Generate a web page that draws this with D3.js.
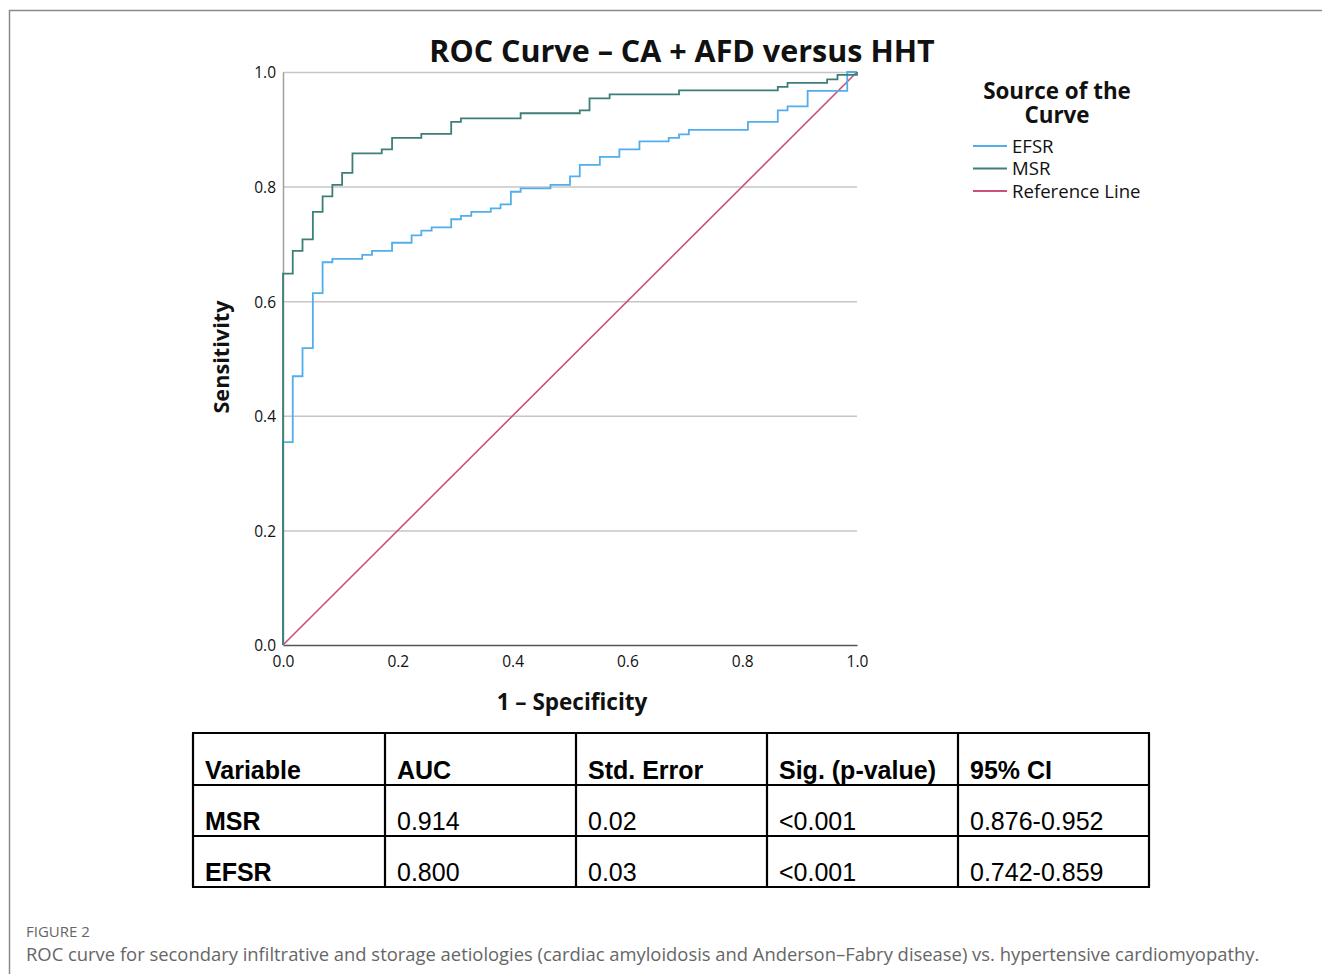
<!DOCTYPE html>
<html><head><meta charset="utf-8">
<script src="https://cdn.jsdelivr.net/npm/d3@7"></script>
<style>
html,body{margin:0;padding:0;background:#fff;}
svg{display:block;}
</style>
</head><body>
<svg id="chart" width="1322" height="974"></svg>
<script>
// ---- Data ----
const msrFpr = [0, 0, 0.017, 0.034, 0.052, 0.069, 0.086, 0.103, 0.121, 0.172, 0.190, 0.241, 0.293, 0.310, 0.414, 0.517, 0.534, 0.569, 0.690, 0.862, 0.879, 0.948, 0.966, 1.0];
const msrTpr = [0, 0.648, 0.688, 0.708, 0.756, 0.783, 0.803, 0.824, 0.858, 0.865, 0.885, 0.892, 0.913, 0.919, 0.928, 0.933, 0.954, 0.961, 0.968, 0.974, 0.981, 0.987, 0.995, 1.0];
const efsrFpr = [0, 0, 0.017, 0.034, 0.052, 0.069, 0.086, 0.138, 0.155, 0.190, 0.224, 0.241, 0.259, 0.293, 0.310, 0.328, 0.362, 0.379, 0.397, 0.414, 0.466, 0.500, 0.517, 0.552, 0.586, 0.621, 0.672, 0.690, 0.707, 0.810, 0.862, 0.879, 0.914, 0.983, 1.0];
const efsrTpr = [0, 0.354, 0.469, 0.518, 0.614, 0.668, 0.674, 0.681, 0.688, 0.702, 0.715, 0.723, 0.729, 0.743, 0.749, 0.756, 0.762, 0.769, 0.791, 0.797, 0.803, 0.818, 0.838, 0.852, 0.865, 0.879, 0.885, 0.891, 0.899, 0.913, 0.933, 0.940, 0.967, 1.0, 1.0];
const refFpr = [0, 1];
const refTpr = [0, 1];
const xTicks = [0, 0.2, 0.4, 0.6, 0.8, 1.0];
const yTicks = [0, 0.2, 0.4, 0.6, 0.8, 1.0];
const seriesNames = ["EFSR", "MSR", "Reference Line"];
const seriesColors = ["#52aeea", "#3d7f78", "#c8507e"];
const tableHeaders = ["Variable", "AUC", "Std. Error", "Sig. (p-value)", "95% CI"];
const tableRow1 = ["MSR", "0.914", "0.02", "<0.001", "0.876-0.952"];
const tableRow2 = ["EFSR", "0.800", "0.03", "<0.001", "0.742-0.859"];
const titleText = "ROC Curve \u2013 CA + AFD versus HHT";
const xLabel = "1 \u2013 Specificity";
const yLabel = "Sensitivity";
const legendTitle = ["Source of the", "Curve"];
const figLabel = "FIGURE 2";
const captionText = "ROC curve for secondary infiltrative and storage aetiologies (cardiac amyloidosis and Anderson\u2013Fabry disease) vs. hypertensive cardiomyopathy.";

// ---- Drawing ----
const svg = d3.select("#chart");
const font = "'Open Sans', 'Noto Sans', sans-serif";

// outer frame
svg.append("path").attr("d", "M9.5,974 L9.5,10.5 L1322,10.5")
  .attr("fill", "none").attr("stroke", "#8a8a8a").attr("stroke-width", 1.5);

const x = d3.scaleLinear().domain([0, 1]).range([283, 857]);
const y = d3.scaleLinear().domain([0, 1]).range([645, 72]);

// gridlines
svg.append("g").selectAll("line").data(yTicks.filter(d => d > 0)).join("line")
  .attr("x1", x(0)).attr("x2", x(1))
  .attr("y1", d => y(d) + 0.5).attr("y2", d => y(d) + 0.5)
  .attr("stroke", "#c6c6c6").attr("stroke-width", 1.5);

// axes
const xAxis = svg.append("g").attr("transform", `translate(0,${y(0)})`)
  .call(d3.axisBottom(x).tickValues(xTicks).tickFormat(d3.format(".1f")).tickSize(0).tickPadding(11));
const yAxis = svg.append("g").attr("transform", `translate(${x(0)},0)`)
  .call(d3.axisLeft(y).tickValues(yTicks).tickFormat(d3.format(".1f")).tickSize(0).tickPadding(7));
[xAxis, yAxis].forEach(a => {
  a.selectAll("text").attr("font-family", font).attr("font-size", 15.5).attr("fill", "#111");
});
xAxis.select(".domain").attr("stroke", "#555").attr("stroke-width", 1.5);
yAxis.select(".domain").attr("stroke", "#a0a0a0").attr("stroke-width", 1.5);
yAxis.selectAll("text").attr("dy", "0.38em");

// lines
const line = d3.line().x(d => x(d[0])).y(d => y(d[1]));
const stepLine = d3.line().x(d => x(d[0])).y(d => y(d[1])).curve(d3.curveStepAfter);
svg.append("path").datum(refFpr.map((v, i) => [v, refTpr[i]]))
  .attr("d", line).attr("fill", "none").attr("stroke", seriesColors[2]).attr("stroke-width", 1.6);
svg.append("path").datum(efsrFpr.map((v, i) => [v, efsrTpr[i]]))
  .attr("d", stepLine).attr("fill", "none").attr("stroke", seriesColors[0]).attr("stroke-width", 1.8);
svg.append("path").datum(msrFpr.map((v, i) => [v, msrTpr[i]]))
  .attr("d", stepLine).attr("fill", "none").attr("stroke", seriesColors[1]).attr("stroke-width", 1.8);

// title & axis labels
svg.append("text").attr("x", 682).attr("y", 62).attr("text-anchor", "middle")
  .attr("font-family", font).attr("font-weight", "bold").attr("font-size", 30.5).attr("fill", "#111").text(titleText);
svg.append("text").attr("x", 572).attr("y", 710).attr("text-anchor", "middle")
  .attr("font-family", font).attr("font-weight", "bold").attr("font-size", 22.5).attr("fill", "#111").text(xLabel);
svg.append("text").attr("transform", "translate(229,357) rotate(-90)").attr("text-anchor", "middle")
  .attr("font-family", font).attr("font-weight", "bold").attr("font-size", 21.7).attr("fill", "#111").text(yLabel);

// legend
const lg = svg.append("g");
const lt = lg.append("text").attr("x", 1057).attr("y", 99).attr("text-anchor", "middle")
  .attr("font-family", font).attr("font-weight", "bold").attr("font-size", 22.4).attr("fill", "#111");
lt.selectAll("tspan").data(legendTitle).join("tspan")
  .attr("x", 1057).attr("dy", (d, i) => i === 0 ? 0 : 24).text(d => d);
const li = lg.selectAll("g.item").data(seriesNames).join("g").attr("class", "item")
  .attr("transform", (d, i) => `translate(0,${146 + i * 22.5})`);
li.append("line").attr("x1", 973).attr("x2", 1007).attr("y1", 0).attr("y2", 0)
  .attr("stroke", (d, i) => seriesColors[i]).attr("stroke-width", 1.8);
li.append("text").attr("x", 1012).attr("y", 6.5).attr("font-family", font).attr("font-size", 18.6)
  .attr("fill", "#111").text(d => d);

// table
const colX = [193, 385, 576, 767, 958, 1149];
const rowY = [733, 785, 836, 887];
const tg = svg.append("g");
const rows = [tableHeaders, tableRow1, tableRow2];
rows.forEach((r, ri) => {
  tg.selectAll(null).data(r).join("text")
    .attr("x", (d, ci) => colX[ci] + 12).attr("y", rowY[ri + 1] - 6)
    .attr("font-family", "'Liberation Sans', Arial, sans-serif")
    .attr("font-size", 25)
    .attr("font-weight", (d, ci) => (ri === 0 || ci === 0) ? "bold" : "normal")
    .attr("fill", "#000").text(d => d);
});
tg.selectAll("line.h").data(rowY).join("line").attr("class", "h")
  .attr("x1", colX[0] - 1).attr("x2", colX[5] + 1).attr("y1", d => d).attr("y2", d => d)
  .attr("stroke", "#000").attr("stroke-width", 2.2);
tg.selectAll("line.v").data(colX).join("line").attr("class", "v")
  .attr("x1", d => d).attr("x2", d => d).attr("y1", rowY[0]).attr("y2", rowY[3])
  .attr("stroke", "#000").attr("stroke-width", 2.2);

// caption
svg.append("text").attr("x", 26).attr("y", 937).attr("font-family", font).attr("font-size", 15)
  .attr("fill", "#666").text(figLabel);
svg.append("text").attr("x", 26).attr("y", 961).attr("font-family", font).attr("font-size", 18.4)
  .attr("fill", "#666").text(captionText);
</script>
</body></html>
